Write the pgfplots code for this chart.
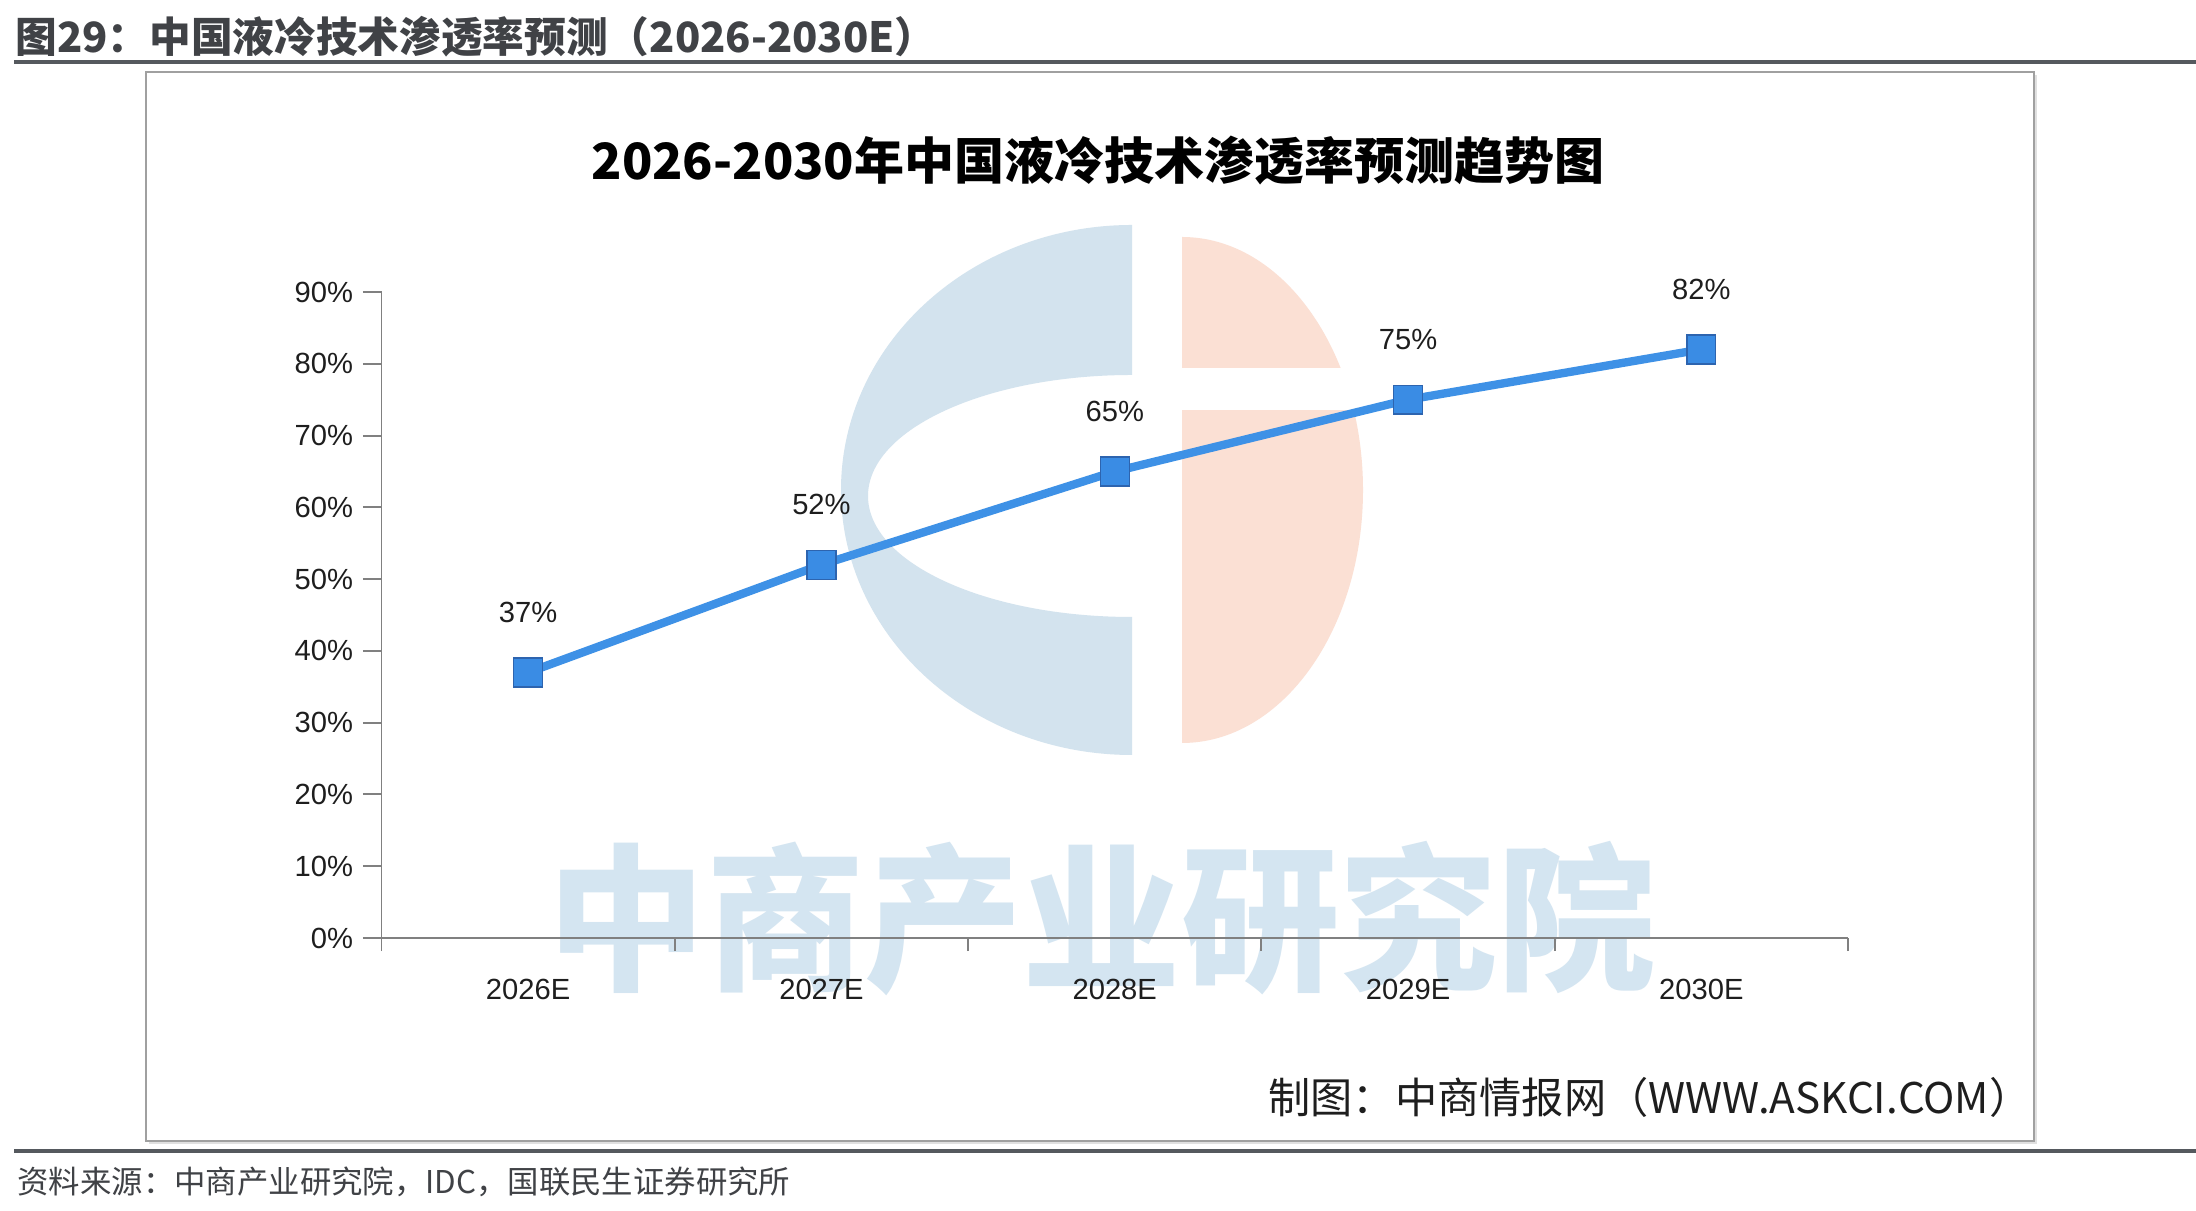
\documentclass[border=0pt]{standalone}
\usepackage{fontspec}
\setmainfont{Liberation Sans}
\newfontfamily\cjk{Noto Sans CJK SC}
\usepackage{pgfplots}
\pgfplotsset{compat=1.18}
\definecolor{linec}{RGB}{62,145,230}
\definecolor{markc}{RGB}{58,140,228}
\definecolor{markd}{RGB}{45,100,175}
\definecolor{axisc}{RGB}{128,128,128}
\definecolor{headc}{RGB}{64,66,70}
\definecolor{rulec}{RGB}{85,89,94}
\definecolor{framec}{RGB}{160,160,160}
\definecolor{wmblue}{RGB}{211,227,238}
\definecolor{wmsalmon}{RGB}{251,224,212}
\definecolor{wmtext}{RGB}{212,229,241}
\definecolor{tickc}{RGB}{30,30,30}
\newcommand\PX[1]{#1*0.36pt}
\newcommand\PY[1]{(1211-#1)*0.36pt}
\pgfplotstableread{
x y
0 37
1 52
2 65
3 75
4 82
}\penetration
\begin{document}
\begin{tikzpicture}
\path[use as bounding box, fill=white] (0,0) rectangle ({\PX{2196}},{\PY{0}});
% heading
\node[anchor=west, text=headc, font=\cjk\bfseries\fontsize{15pt}{16pt}\selectfont, inner sep=0pt] at ({\PX{15}},{\PY{37}}) {图29：中国液冷技术渗透率预测（2026-2030E）};
\draw[line width=1.1pt, rulec] ({\PX{14}},{\PY{62}}) -- ({\PX{2196}},{\PY{62}});
% frame
\fill[black!12] ({\PX{149}},{\PY{75}}) rectangle ({\PX{2037}},{\PY{1144}});
\draw[draw=framec, line width=0.8pt, fill=white] ({\PX{146}},{\PY{72}}) rectangle ({\PX{2034}},{\PY{1141}});
% watermark logo
\begin{scope}
\clip ({\PX{800}},{\PY{200}}) rectangle ({\PX{1132}},{\PY{780}});
\fill[wmblue, even odd rule] ({\PX{1132}},{\PY{490}}) ellipse [x radius={\PX{291}}, y radius={\PX{265}}] ({\PX{1132}},{\PY{496}}) ellipse [x radius={\PX{264}}, y radius={\PX{121}}];
\end{scope}
\begin{scope}
\clip ({\PX{1182}},{\PY{200}}) rectangle ({\PX{1400}},{\PY{780}});
\fill[wmsalmon] ({\PX{1182}},{\PY{490}}) ellipse [x radius={\PX{181}}, y radius={\PX{253}}];
\end{scope}
\fill[white] ({\PX{1178}},{\PY{368}}) rectangle ({\PX{1400}},{\PY{410}});
\node[text=wmtext, font=\cjk\bfseries\fontsize{57pt}{60pt}\selectfont, inner sep=0pt] at ({\PX{1102}},{\PY{919}}) {中商产业研究院};
% chart title
\node[font=\cjk\bfseries\fontsize{18pt}{20pt}\selectfont, inner sep=0pt] at ({\PX{1098}},{\PY{161}}) {2026-2030年中国液冷技术渗透率预测趋势图};
\begin{axis}[
  at={({\PX{381.5}},{\PY{938}})}, anchor=south west,
  scale only axis, width=527.94pt, height=232.56pt,
  xmin=-0.5, xmax=4.5, ymin=0, ymax=90,
  axis x line*=bottom, axis y line*=left,
  axis line style={draw=axisc, line width=0.7pt},
  tick align=outside,
  major tick length=6.7pt,
  tick style={draw=axisc, line width=0.7pt},
  /pgf/number format/assume math mode=true,
  tick label style={font=\fontsize{10.5pt}{12pt}\selectfont, text=tickc},
  ytick={0,10,...,90},
  yticklabel={\pgfmathprintnumber{\tick}\%},
  xtick={0,1,2,3,4},
  xticklabels={2026E,2027E,2028E,2029E,2030E},
  xticklabel style={yshift=-4.5pt},
  xtick style={draw=none},
  extra x ticks={-0.5,0.5,1.5,2.5,3.5,4.5},
  extra x tick labels={},
  extra x tick style={xtick style={draw=axisc}, major tick length=4.7pt},
  clip=false,
]
\addplot[color=linec, line width=3pt, mark=square*, mark size=5.2pt,
  mark options={fill=markc, draw=markd, line width=0.5pt},
  nodes near coords={\pgfmathprintnumber{\pgfplotspointmeta}\%},
  every node near coord/.append style={anchor=center, yshift=21.6pt, font=\fontsize{10.5pt}{12pt}\selectfont, text=tickc},
] table[x=x, y=y] {\penetration};
\end{axis}
% credit
\node[anchor=east, text=tickc, font=\cjk\fontsize{15.2pt}{17pt}\selectfont, inner sep=0pt] at ({\PX{2032}},{\PY{1097}}) {制图：中商情报网（WWW.ASKCI.COM）};
\draw[line width=1.1pt, rulec] ({\PX{14}},{\PY{1151}}) -- ({\PX{2196}},{\PY{1151}});
\node[anchor=west, text=headc, font=\cjk\fontsize{11.3pt}{13pt}\selectfont, inner sep=0pt] at ({\PX{17}},{\PY{1182}}) {资料来源：中商产业研究院，IDC，国联民生证券研究所};
\end{tikzpicture}
\end{document}
